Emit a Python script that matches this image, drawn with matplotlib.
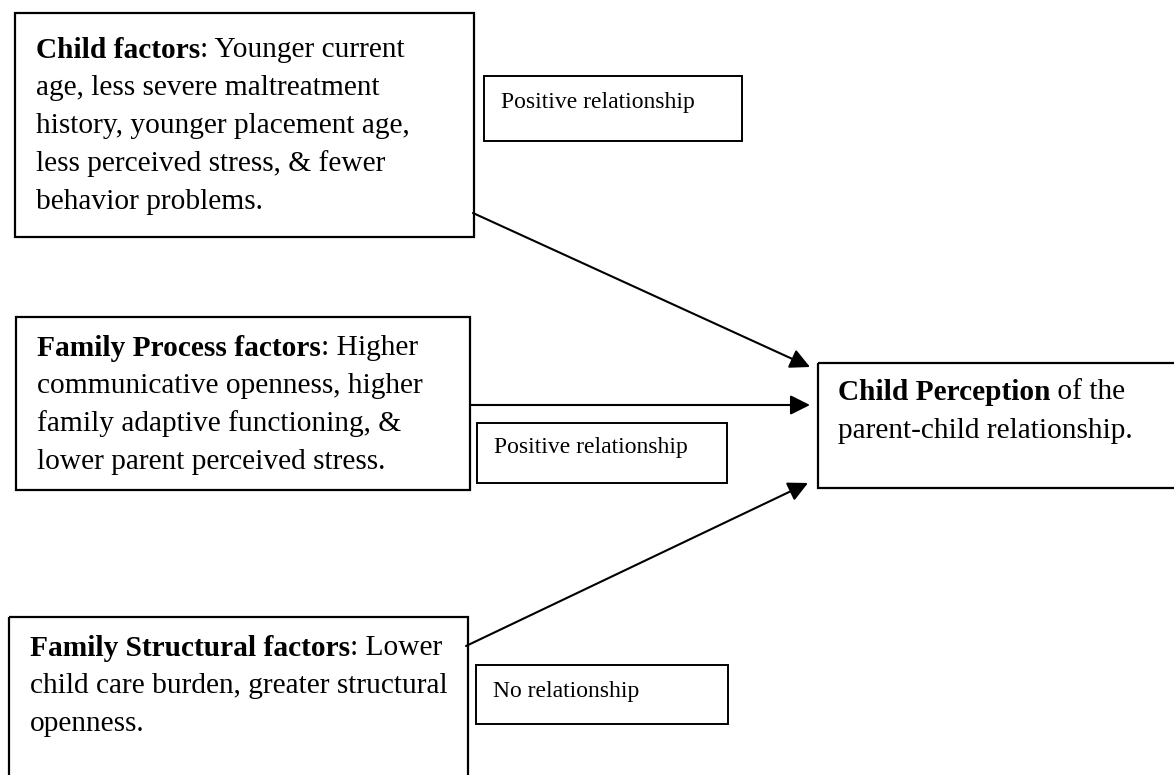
import matplotlib
matplotlib.use("Agg")
import matplotlib.pyplot as plt
from matplotlib.patches import Rectangle

plt.rcParams["font.family"] = ["Liberation Serif", "DejaVu Serif"]

# diagram content
factor_titles = ["Child factors", "Family Process factors", "Family Structural factors"]
factor_lines = [
    [": Younger current",
     "age, less severe maltreatment",
     "history, younger placement age,",
     "less perceived stress, & fewer",
     "behavior problems."],
    [": Higher",
     "communicative openness, higher",
     "family adaptive functioning, &",
     "lower parent perceived stress."],
    [": Lower",
     "child care burden, greater structural",
     "openness."],
]
relationship_labels = ["Positive relationship", "Positive relationship", "No relationship"]
outcome_title = "Child Perception"
outcome_lines = [" of the", "parent-child relationship."]

# layout in pixels (x right, y down)
factor_boxes = [(15, 13, 474, 237), (16, 317, 470, 490), (9, 617, 468, 790)]
factor_text_x = [36, 37, 30]
factor_first_y = [50, 348, 648]
label_boxes = [(484, 76, 742, 141), (477, 423, 727, 483), (476, 665, 728, 724)]
label_offsets = [-6, -5, -3]
outcome_box = (818, 363, 1190, 488)
arrow_starts = [(473, 213), (470, 405), (466, 646)]
arrow_ends = [(810, 367), (810, 405), (808, 483)]
line_step = 38
MAIN_SIZE = 21.2
LABEL_SIZE = 17

fig = plt.figure(figsize=(11.74, 7.75), dpi=100)
ax = fig.add_axes([0, 0, 1, 1])
ax.set_xlim(0, 1174)
ax.set_ylim(775, 0)
ax.axis("off")
renderer = fig.canvas.get_renderer()


def draw_box(x0, y0, x1, y1, lw=1.6):
    ax.add_patch(Rectangle((x0, y0), x1 - x0, y1 - y0, fill=False,
                           edgecolor="black", linewidth=lw))


def draw_mixed(x, y, bold_part, rest):
    t = ax.text(x, y, bold_part, fontsize=MAIN_SIZE, fontweight="bold",
                va="center", ha="left")
    bb = t.get_window_extent(renderer=renderer)
    x_end = ax.transData.inverted().transform((bb.x1, bb.y0))[0]
    ax.text(x_end, y, rest, fontsize=MAIN_SIZE, va="center", ha="left")


for i, title in enumerate(factor_titles):
    draw_box(*factor_boxes[i])
    lines = factor_lines[i]
    y = factor_first_y[i]
    draw_mixed(factor_text_x[i], y, title, lines[0])
    for k, line in enumerate(lines[1:], start=1):
        ax.text(factor_text_x[i], y + k * line_step, line, fontsize=MAIN_SIZE,
                va="center", ha="left")

for box, label, off in zip(label_boxes, relationship_labels, label_offsets):
    draw_box(*box, lw=1.4)
    ax.text(box[0] + 17, (box[1] + box[3]) / 2 + off, label, fontsize=LABEL_SIZE,
            va="center", ha="left")

draw_box(*outcome_box)
draw_mixed(838, 392, outcome_title, outcome_lines[0])
ax.text(838, 431, outcome_lines[1], fontsize=MAIN_SIZE, va="center", ha="left")

for start, end in zip(arrow_starts, arrow_ends):
    ax.annotate("", xy=end, xytext=start,
                arrowprops=dict(arrowstyle="-|>,head_length=1.2,head_width=0.6",
                                color="black", lw=1.5, shrinkA=0, shrinkB=0))

fig.savefig("out.png", dpi=100)
